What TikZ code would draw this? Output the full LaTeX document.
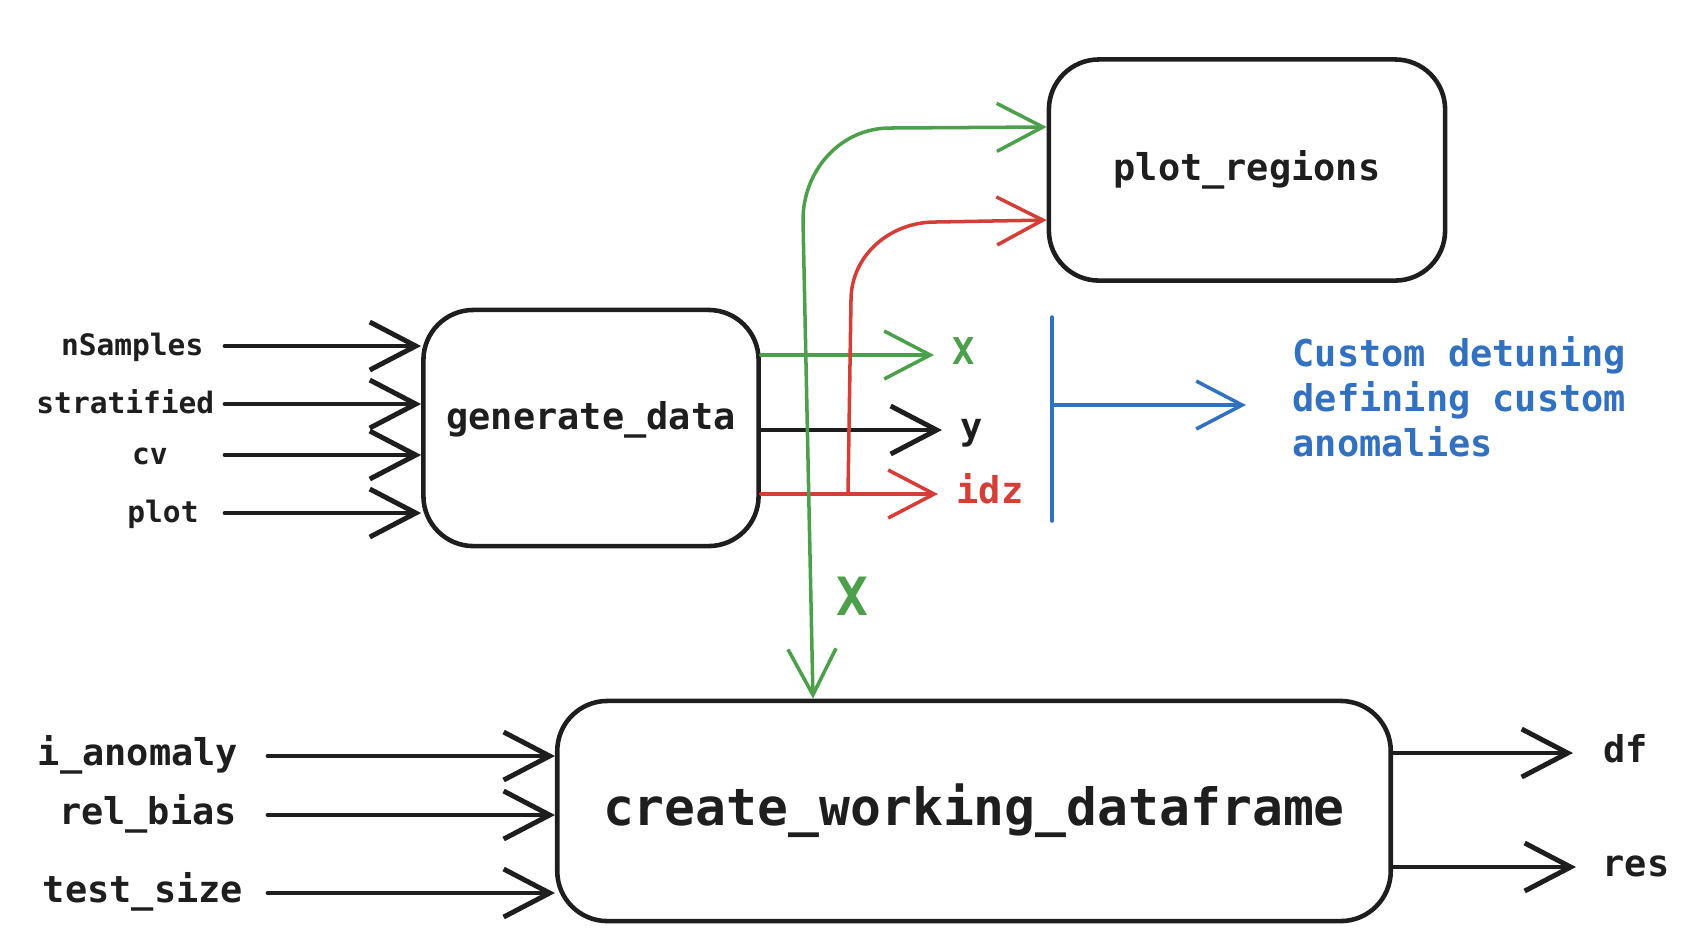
\documentclass[tikz,border=0pt]{standalone}
\usepackage{fontspec}
\setmonofont{DejaVu Sans Mono}
\usetikzlibrary{arrows.meta}
\definecolor{ink}{RGB}{30,30,30}
\definecolor{exgreen}{RGB}{76,160,76}
\definecolor{exred}{RGB}{212,62,54}
\definecolor{exblue}{RGB}{50,112,192}
\tikzset{
  fn/.style={draw=ink, line width=1.3pt, rounded corners=5mm, text=ink,
    font=\ttfamily\bfseries\fontsize{10.5}{12}\selectfont},
  lbl/.style={inner sep=0pt, text height=.75em, text depth=.2em, text=ink,
    font=\ttfamily\bfseries\fontsize{10.5}{12}\selectfont},
  arg/.style={lbl, font=\ttfamily\bfseries\fontsize{8.4}{10}\selectfont},
  arr/.style={->, draw=ink, line width=1.4pt, line cap=round},
  garr/.style={->, draw=exgreen, line width=1pt, line cap=round},
  rarr/.style={->, draw=exred, line width=1pt, line cap=round},
  barr/.style={->, draw=exblue, line width=1pt, line cap=round},
}
\begin{document}
\begin{tikzpicture}  % ------ generate_data -> plot_regions / create_working_dataframe -----------
      [x=0.01cm, y=-0.01cm, >={Straight Barb[length=4.6mm,width=4.8mm]}]
    \useasboundingbox (0,0) rectangle (1684,950);
    \node[fn, text depth=7pt, minimum width=3.35cm, minimum height=2.36cm] (gen) at (591,428) {generate\_data};
    \node[fn, minimum width=3.96cm, minimum height=2.21cm] (plotreg) at (1247,170) {plot\_regions};
    \node[fn, font=\ttfamily\bfseries\fontsize{14.6}{17}\selectfont,
          minimum width=8.33cm, minimum height=2.20cm] (cwd) at (974,811) {create\_working\_dataframe};

    % entrees de generate_data
    \node[arg, anchor=east] (nsamp) at (204,346) {nSamples};
    \node[arg, anchor=east] (strat) at (215,404) {stratified};
    \node[arg] (cv) at (150,455) {cv};
    \node[arg] (plot) at (163,513) {plot};
    \coordinate (inL) at (225,0);
    \draw[arr] (inL |- nsamp) -- (gen.west |- nsamp);
    \draw[arr] (inL |- strat) -- (gen.west |- strat);
    \draw[arr] (inL |- cv) -- (gen.west |- cv);
    \draw[arr] (inL |- plot) -- (gen.west |- plot);

    % sorties de generate_data
    \node[lbl, anchor=west, text=exgreen] (oX) at (952,355) {X};
    \node[lbl, anchor=west] (oy) at (960,430) {y};
    \node[lbl, anchor=west, text=exred] (oidz) at (956,494) {idz};
    \draw[garr, shorten >=1.8mm] (gen.east |- oX) -- (oX.west);
    \draw[arr, shorten >=1.8mm] (gen.east |- oy) -- (oy.west);
    \draw[rarr, shorten >=1.8mm] (gen.east |- oidz) -- (oidz.west);

    % X et idz vers plot_regions
    \coordinate (gV) at (813,0);
    \draw[garr, <->] ([yshift=4.3mm]plotreg.west) -- (890,128)
        to[out=180,in=90] (803,220) -- (gV |- cwd.north);
    \coordinate (rT) at (848,0);
    \draw[rarr] (rT |- oidz) -- (851,300) to[out=90,in=180] (935,222)
        -- ([yshift=-5mm]plotreg.west);
    \node[text=exgreen, font=\ttfamily\bfseries\fontsize{15}{18}\selectfont] (bigX) at (852,596) {X};

    % detuning
    \coordinate (B1) at (1052,317);
    \coordinate (B2) at (1052,521);
    \coordinate (B3) at (1052,405);
    \node[text=exblue, anchor=west, inner sep=0pt, align=left,
          font=\ttfamily\bfseries\fontsize{10.5}{12.8}\selectfont] (note) at (1292,397)
          {Custom detuning\\defining custom\\anomalies};
    \draw[exblue, line width=1pt, line cap=round] (B1) -- (B2);
    \draw[barr, shorten >=4.6mm] (B3) -- (note.west |- B3);

    % entrees et sorties de create_working_dataframe
    \node[lbl] (ianom) at (138,756) {i\_anomaly};
    \node[lbl] (relb) at (148,815) {rel\_bias};
    \node[lbl] (tsize) at (143,893) {test\_size};
    \coordinate (botL) at (268,0);
    \draw[arr] (botL |- ianom) -- (cwd.west |- ianom);
    \draw[arr] (botL |- relb) -- (cwd.west |- relb);
    \draw[arr] (botL |- tsize) -- (cwd.west |- tsize);
    \node[lbl, anchor=west] (df) at (1603,753) {df};
    \node[lbl, anchor=west] (res) at (1602,867) {res};
    \draw[arr, shorten >=3mm] (cwd.east |- df) -- (df.west);
    \draw[arr, shorten >=2.6mm] (cwd.east |- res) -- (res.west);
\end{tikzpicture}
\end{document}
